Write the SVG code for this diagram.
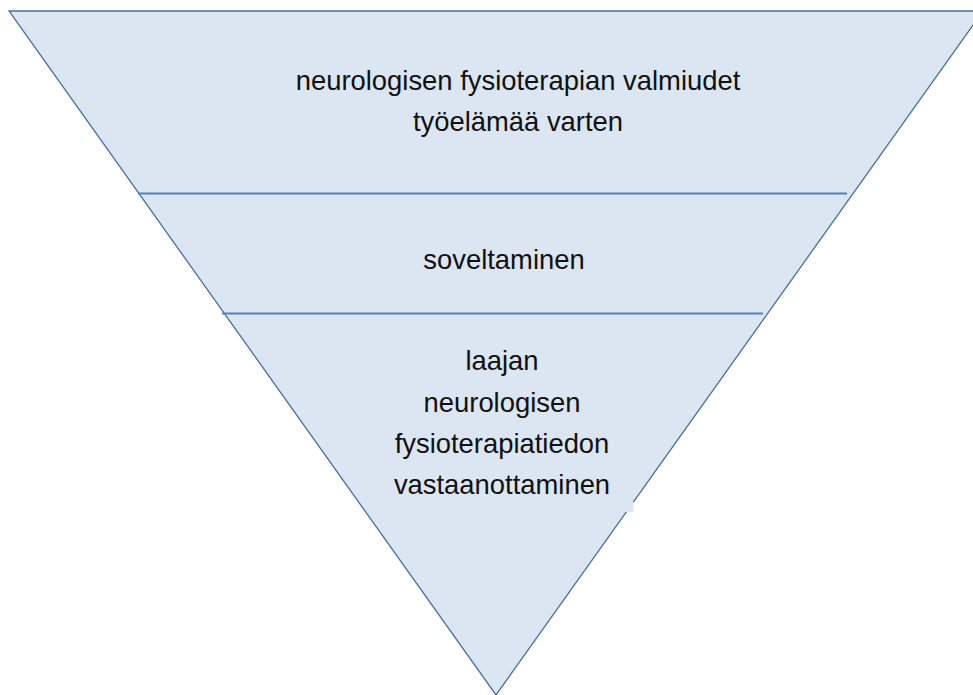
<svg xmlns="http://www.w3.org/2000/svg" width="973" height="695" viewBox="0 0 973 695">
  <style>
    .label { font-family: "Liberation Sans", Arial, sans-serif; font-size: 27.4px; fill: #111111; text-anchor: middle; }
    .band { fill: #DCE6F2; }
    .divider { stroke: #4F81BD; stroke-width: 2.2; fill: none; }
    .outline { fill: none; stroke: #4A6E9E; stroke-width: 1.3; }
  </style>
  <rect width="973" height="695" fill="#FFFFFF"/>

  <!-- inverted pyramid -->
  <g id="pyramid">
    <polygon class="band" points="9,11 983,11 496,695"/>
    <polygon class="outline" points="9,11 983,11 496,695"/>
  </g>

  <!-- level dividers -->
  <g id="dividers">
    <line class="divider" x1="138" y1="193.5" x2="847" y2="193.5"/>
    <line class="divider" x1="222" y1="313.5" x2="763" y2="313.5"/>
  </g>

  <!-- text box edge that masks the outline -->
  <rect x="618" y="502" width="15.5" height="10" fill="#DCE6F2"/>
  <rect x="633.5" y="502" width="8" height="10" fill="#FFFFFF"/>

  <g id="level-top">
    <text class="label" x="518" y="90">neurologisen fysioterapian valmiudet</text>
    <text class="label" x="518" y="131">työelämää varten</text>
  </g>

  <g id="level-middle">
    <text class="label" x="504" y="269">soveltaminen</text>
  </g>

  <g id="level-bottom">
    <text class="label" x="502" y="370">laajan</text>
    <text class="label" x="502" y="412">neurologisen</text>
    <text class="label" x="502" y="453">fysioterapiatiedon</text>
    <text class="label" x="502" y="494">vastaanottaminen</text>
  </g>
</svg>
